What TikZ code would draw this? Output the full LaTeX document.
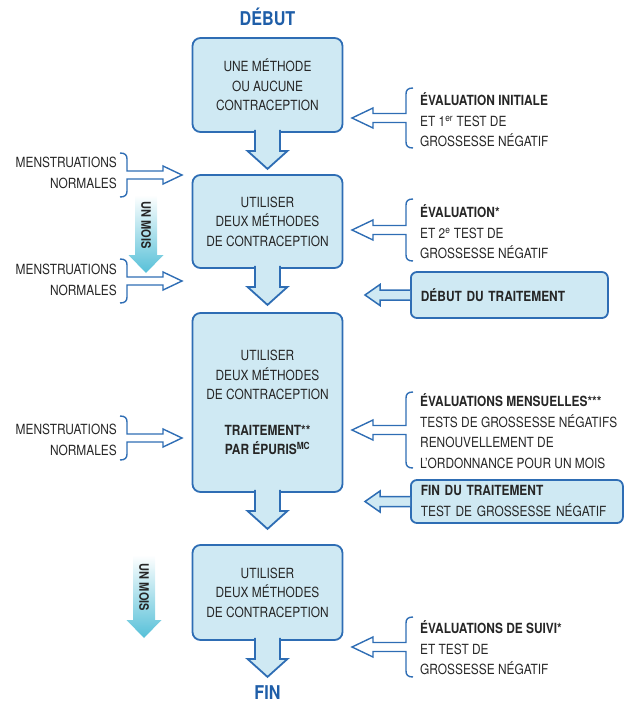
\documentclass[tikz,border=0pt]{standalone}
\usepackage{fontspec}
\setmainfont{TeX Gyre Heros}[FakeStretch=0.85]
\usetikzlibrary{calc,positioning}

\definecolor{boxfill}{RGB}{207,233,243}
\definecolor{boxline}{RGB}{46,109,180}
\definecolor{titleblue}{RGB}{31,94,168}
\definecolor{textgray}{RGB}{38,38,38}
\definecolor{moiscyan}{RGB}{86,192,216}

% big arrow from a box down to the next one
\newcommand{\blockdown}[1]{%
  \filldraw[bigarrow] ($(#1.south)+(-12.5,-3)$) -- ++(0,21) -- ++(-7.5,0) -- ++(20,18) -- ++(20,-18) -- ++(-7.5,0) -- ++(0,-21);}
% bracket on the left, open arrow pointing right to #1
\newcommand{\mnbrace}[1]{%
  \draw[thinline] (#1) ++(-62,-22) .. controls +(5,0) and +(0,-4) .. ++(7,6) -- ++(0,12) -- ++(36,0) -- ++(0,-5) -- (#1)
    -- ++(-19,9) -- ++(0,-5) -- ++(-36,0) -- ++(0,12) .. controls +(0,4) and +(5,0) .. ++(-7,6);}
% bracket on the right, open arrow pointing left to #1, half height #2
\newcommand{\evbrace}[2]{%
  \draw[thinline] (#1) ++(61,-#2) .. controls +(-5,0) and +(0,-4) .. ++(-7,6) -- ($(#1)+(54,-4.5)$) -- ++(-33,0) -- ++(0,-5.5) -- (#1)
    -- ++(21,10) -- ++(0,-5.5) -- ++(33,0) -- ($(#1)+(54,#2-6)$) .. controls +(0,4) and +(-5,0) .. ++(7,6);}
% shaded arrow "un mois", #1 top centre, #2 shaft length
\newcommand{\moisarrow}[2]{%
  \shade[top color=white, bottom color=moiscyan] (#1) ++(-11,0) -- ++(0,#2) -- ++(-6.5,0) -- ++(17.5,18) -- ++(17.5,-18) -- ++(-6.5,0) -- ++(0,-#2) -- cycle;
  \node[moistext] at ($(#1)+(0,#2/2)$) {UN MOIS};}

\begin{document}
\begin{tikzpicture}[x=1pt, y=-1pt,
    every node/.style={text=textgray},
    stepbox/.style={draw=boxline, fill=boxfill, line width=1.8pt, rounded corners=8pt,
      minimum width=150pt, align=center, font=\fontsize{14}{19.5}\selectfont},
    evbox/.style={draw=boxline, fill=boxfill, line width=1.8pt, rounded corners=6pt,
      anchor=west, align=left, inner xsep=10pt, font=\fontsize{14}{21}\selectfont},
    bigarrow/.style={draw=boxline, fill=boxfill, line width=1.8pt, line join=miter},
    fillarrow/.style={draw=boxline, fill=boxfill, line width=1.5pt},
    thinline/.style={draw=boxline, line width=1.4pt},
    titletext/.style={text=titleblue, font=\fontsize{19}{22}\selectfont\bfseries},
    mntext/.style={anchor=east, align=right, inner sep=0pt, font=\fontsize{14}{21}\selectfont},
    evtext/.style={anchor=west, align=left, inner sep=0pt, font=\fontsize{14}{20.5}\selectfont},
    moistext/.style={rotate=-90, font=\fontsize{13}{15}\selectfont\bfseries}]
\useasboundingbox (0,0) rectangle (628,706);

% main column
\node[titletext] (debut) at (267.5,17) {DÉBUT};
\node[stepbox, minimum height=94pt] (b1) at (267.5,85) {UNE MÉTHODE\\OU AUCUNE\\CONTRACEPTION};
\node[stepbox, minimum height=93pt] (b2) at (267.5,221.5) {UTILISER\\DEUX MÉTHODES\\DE CONTRACEPTION};
\node[stepbox, minimum height=179pt] (b3) at (267.5,402.5) {UTILISER\\DEUX MÉTHODES\\DE CONTRACEPTION\\[16pt]\textbf{TRAITEMENT**}\\\textbf{PAR ÉPURIS\textsuperscript{MC}}};
\node[stepbox, minimum height=95pt] (b4) at (267.5,592.5) {UTILISER\\DEUX MÉTHODES\\DE CONTRACEPTION};
\node[titletext] (fin) at (267.5,693) {FIN};

\blockdown{b1}
\blockdown{b2}
\blockdown{b3}
\blockdown{b4}

% left side
\node[mntext] (mn1) at (117,172.5) {MENSTRUATIONS\\NORMALES};
\node[mntext] (mn2) at (117,279.5) {MENSTRUATIONS\\NORMALES};
\node[mntext] (mn3) at (117,439.5) {MENSTRUATIONS\\NORMALES};
\coordinate (t1) at ($(mn1.east)+(65,2.5)$);
\coordinate (t2) at ($(mn2.east)+(65,1.5)$);
\coordinate (t3) at ($(mn3.east)+(65,-1.5)$);
\mnbrace{t1}
\mnbrace{t2}
\mnbrace{t3}

\moisarrow{146,195}{60}
\moisarrow{144,555}{65}

% right side
\node[evtext] (ev1) at (420,120) {\textbf{ÉVALUATION INITIALE}\\ET 1\textsuperscript{er} TEST DE\\GROSSESSE NÉGATIF};
\node[evtext] (ev2) at (420,232) {\textbf{ÉVALUATION*}\\ET 2\textsuperscript{e} TEST DE\\GROSSESSE NÉGATIF};
\node[evtext] (ev3) at (420,431) {\textbf{ÉVALUATIONS MENSUELLES***}\\TESTS DE GROSSESSE NÉGATIFS\\RENOUVELLEMENT DE\\L'ORDONNANCE POUR UN MOIS};
\node[evtext] (ev4) at (420,648) {\textbf{ÉVALUATIONS DE SUIVI*}\\ET TEST DE\\GROSSESSE NÉGATIF};
\coordinate (r1) at ($(ev1.west)+(-68,-2)$);
\coordinate (r2) at ($(ev2.west)+(-68,-2)$);
\coordinate (r3) at ($(ev3.west)+(-68,-1)$);
\coordinate (r4) at ($(ev4.west)+(-68,-1)$);
\evbrace{r1}{30}
\evbrace{r2}{31}
\evbrace{r3}{38}
\evbrace{r4}{30}

\node[evbox, text width=177pt, minimum height=46pt] (dt) at (410,295) {\textbf{DÉBUT DU TRAITEMENT}};
\node[evbox, text width=192pt, minimum height=43pt] (ft) at (410,501.5) {\textbf{FIN DU TRAITEMENT}\\TEST DE GROSSESSE NÉGATIF};
\filldraw[fillarrow] (dt.west) ++(0,-5) -- ++(-30,0) -- ++(0,-5.5) -- ++(-15,10.5) -- ++(15,10.5) -- ++(0,-5.5) -- ++(30,0);
\filldraw[fillarrow] (ft.west) ++(0,-5) -- ++(-30,0) -- ++(0,-5.5) -- ++(-15,10.5) -- ++(15,10.5) -- ++(0,-5.5) -- ++(30,0);
\end{tikzpicture}
\end{document}
